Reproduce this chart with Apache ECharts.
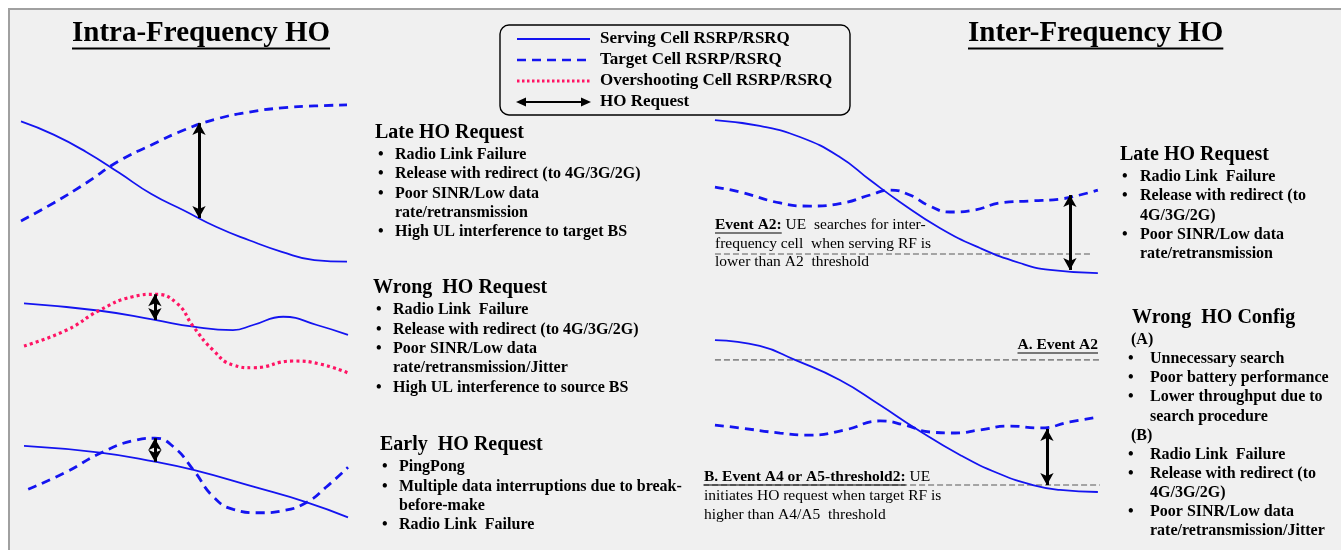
<!DOCTYPE html>
<html><head><meta charset="utf-8">
<script src="https://cdn.jsdelivr.net/npm/echarts@6/dist/echarts.min.js"></script>
<style>html,body{margin:0;padding:0;background:#fff}#c{width:1341px;height:550px}</style>
</head><body><div id="c"></div>
<script>
// ---------------- DATA ----------------
// Intra-frequency: late HO
const intraLateX       = [0,10,20,30,40,50,60,70,80,90,100];
const intraLateServing = [87,79,68.5,56,43,33,23,15,8,3,2];
const intraLateTarget  = [26.7,37.6,49.7,63,72.7,81.8,88.5,92.7,95.2,96.4,97];
const intraLateArrow   = [54.6, 86, 28.5];
// Intra-frequency: wrong HO
const intraWrongServX  = [0,23.5,40.4,52.3,64.5,70.7,80,90.4,100];
const intraWrongServY  = [80.7,72.9,63.2,56.1,52.6,57.9,66.6,57.9,47.4];
const intraWrongOverX  = [0,13.2,23.5,33.6,40.4,47.1,52.3,58.3,64.5,70.7,83,91.4,100];
const intraWrongOverY  = [35.8,52.6,73.7,87.7,90.2,81,56.1,31.6,15.8,12.9,20,16.8,7.4];
const intraWrongArrow  = [40.4, 90.2, 63.2];
// Intra-frequency: early HO
const intraEarlyServX  = [0,23.5,40.4,52.3,70.8,87.3,100];
const intraEarlyServY  = [83.2,76.1,66.6,57.9,40.3,23.9,8.1];
const intraEarlyTgtX   = [1.3,13.2,23.5,33.7,40.4,46.1,52.3,58.4,64.6,72.8,80,87.3,93.4,100];
const intraEarlyTgtY   = [37.6,56.1,75.5,88.7,91.3,82.4,57.9,29.8,16.5,12.9,15.1,23.9,40.3,60.7];
const intraEarlyArrow  = [40.4, 91.3, 66.6];
// Inter-frequency: late HO
const interLateServX   = [0,11.7,22.2,32.6,40.5,48.3,58.7,69.2,79.6,87.5,100];
const interLateServY   = [94.1,90.6,84.1,72.4,58.8,45.9,30.6,18.8,10,5.9,4.1];
const interLateTgtX    = [0,6.5,17,24.8,33.4,40.5,45.7,50.9,56.1,61.4,67.9,74.4,82.2,90.1,95.3,100];
const interLateTgtY    = [54.7,51.8,45.3,43.5,45.3,50,52.9,50,43.5,40,41.2,45.3,46.5,47.6,50,52.9];
const interLateA2      = [0, 98.7, 15.3];
const interLateArrow   = [92.7, 50, 5.9];
// Inter-frequency: wrong HO config
const interWrongServX  = [0,11.7,20.9,32.6,43.1,52.2,64,74.4,83,90.1,100];
const interWrongServY  = [94.1,90.6,82.4,70.6,55.9,42.4,26.5,15.3,8.8,5.9,4.7];
const interWrongTgtX   = [0,6.5,17,24.8,33.9,43.1,49.6,56.1,62.7,69.2,77,84.9,92.7,100];
const interWrongTgtY   = [44.1,42.4,39.4,38.2,41.2,46.5,44.1,40,39.4,41.2,43.5,42.4,45.9,48.8];
const interWrongA2     = [0, 100.5, 82.4];
const interWrongB      = [-3.1, 100.5, 8.8];
const interWrongArrow  = [86.7, 41.8, 8.8];

// Texts
const titleIntra = 'Intra-Frequency HO';
const titleInter = 'Inter-Frequency HO';
const legendLabels = ['Serving Cell RSRP/RSRQ','Target Cell RSRP/RSRQ','Overshooting Cell RSRP/RSRQ','HO Request'];
const intraLateHead = 'Late HO Request';
const intraLateItems = [['Radio Link Failure'],['Release with redirect (to 4G/3G/2G)'],['Poor SINR/Low data','rate/retransmission'],['High UL interference to target BS']];
const intraWrongHead = 'Wrong  HO Request';
const intraWrongItems = [['Radio Link  Failure'],['Release with redirect (to 4G/3G/2G)'],['Poor SINR/Low data','rate/retransmission/Jitter'],['High UL interference to source BS']];
const intraEarlyHead = 'Early  HO Request';
const intraEarlyItems = [['PingPong'],['Multiple data interruptions due to break-','before-make'],['Radio Link  Failure']];
const interLateHead = 'Late HO Request';
const interLateItems = [['Radio Link  Failure'],['Release with redirect (to','4G/3G/2G)'],['Poor SINR/Low data','rate/retransmission']];
const interWrongHead = 'Wrong  HO Config';
const interWrongItems = ['(A)',['Unnecessary search'],['Poor battery performance'],['Lower throughput due to','search procedure'],'(B)',['Radio Link  Failure'],['Release with redirect (to','4G/3G/2G)'],['Poor SINR/Low data','rate/retransmission/Jitter']];
const eventA2Bold = 'Event A2:';
const eventA2Lines = [' UE  searches for inter-','frequency cell  when serving RF is','lower than A2  threshold'];
const eventALabel = 'A. Event A2';
const eventBBold = 'B. Event A4 or A5-threshold2:';
const eventBLines = [' UE','initiates HO request when target RF is','higher than A4/A5  threshold'];

// ---------------- RENDER ----------------
const SERIF = '"Liberation Serif","Times New Roman",serif';
const BLUE = '#1414f0', RED = '#ff1464';
const cv = document.createElement('canvas').getContext('2d');
function tw(font, s){ cv.font = font; return cv.measureText(s).width; }
const zip = (xs, ys) => xs.map((x,i)=>[x, ys[i]]);

const grids = [
  {left:21, top:100, width:326, height:165},
  {left:24, top:285, width:324, height:95},
  {left:24, top:430, width:324, height:95},
  {left:702.7, top:110, width:399, height:170},
  {left:702.7, top:330, width:399, height:170}
];
const xMin = [0,0,0,-3.2,-3.2], xMax = [100,100,100,101,101];

function serving(gi, data, arrow){
  const s = {type:'line', xAxisIndex:gi, yAxisIndex:gi, data, smooth:0.5, showSymbol:false, silent:true,
    lineStyle:{color:BLUE, width:1.8}, z:3};
  if (arrow) s.markLine = {silent:true, symbol:['arrow','arrow'], symbolSize:[10,12], animation:false,
    lineStyle:{color:'#000', width:3, type:'solid'}, label:{show:false},
    data:[[{coord:[arrow[0],arrow[1]]},{coord:[arrow[0],arrow[2]]}]]};
  return s;
}
function target(gi, data){
  return {type:'line', xAxisIndex:gi, yAxisIndex:gi, data, smooth:0.5, showSymbol:false, silent:true,
    lineStyle:{color:BLUE, width:2.8, type:[9,6]}, z:3};
}
function overshoot(gi, data){
  return {type:'line', xAxisIndex:gi, yAxisIndex:gi, data, smooth:0.5, showSymbol:false, silent:true,
    lineStyle:{color:RED, width:3.2, type:[3,3.2]}, z:3};
}
function thresh(gi, t){
  return {type:'line', xAxisIndex:gi, yAxisIndex:gi, data:[[t[0],t[2]],[t[1],t[2]]], showSymbol:false, silent:true,
    lineStyle:{color:'#8a8a8a', width:1.6, type:[6,3]}, z:2};
}

const series = [
  serving(0, zip(intraLateX, intraLateServing), intraLateArrow),
  target(0, zip(intraLateX, intraLateTarget)),
  serving(1, zip(intraWrongServX, intraWrongServY), intraWrongArrow),
  overshoot(1, zip(intraWrongOverX, intraWrongOverY)),
  serving(2, zip(intraEarlyServX, intraEarlyServY), intraEarlyArrow),
  target(2, zip(intraEarlyTgtX, intraEarlyTgtY)),
  thresh(3, interLateA2),
  serving(3, zip(interLateServX, interLateServY), interLateArrow),
  target(3, zip(interLateTgtX, interLateTgtY)),
  thresh(4, interWrongA2),
  thresh(4, interWrongB),
  serving(4, zip(interWrongServX, interWrongServY), interWrongArrow),
  target(4, zip(interWrongTgtX, interWrongTgtY))
];

// graphics
const els = [];
els.push({type:'rect', z:-100, shape:{x:9, y:9, width:1345, height:560}, style:{fill:'#f0f0f0', stroke:'#a0a0a0', lineWidth:2}});
function txt(s, x, y, font, align){
  els.push({type:'text', z:50, style:{text:s, x, y, font, fill:'#000', align:align||'left', verticalAlign:'middle'}});
}
function uline(x1, x2, y, w){
  els.push({type:'line', z:50, shape:{x1, y1:y, x2, y2:y}, style:{stroke:'#000', lineWidth:w||1.3}});
}
// titles
const TF = `bold 29px ${SERIF}`;
txt(titleIntra, 72, 34, TF); uline(72, 72 + tw(TF, titleIntra), 48.5, 2.2);
txt(titleInter, 968, 34, TF); uline(968, 968 + tw(TF, titleInter), 48.5, 2.2);

// legend box
els.push({type:'rect', z:40, shape:{x:500, y:25, width:350, height:90, r:9}, style:{fill:'none', stroke:'#000', lineWidth:1.4}});
const LF = `bold 17px ${SERIF}`;
const ly = [39, 60, 81, 102];
els.push({type:'line', z:50, shape:{x1:517,y1:ly[0],x2:590,y2:ly[0]}, style:{stroke:BLUE, lineWidth:1.8}});
els.push({type:'line', z:50, shape:{x1:517,y1:ly[1],x2:590,y2:ly[1]}, style:{stroke:BLUE, lineWidth:2.5, lineDash:[9,6]}});
els.push({type:'line', z:50, shape:{x1:517,y1:ly[2],x2:590,y2:ly[2]}, style:{stroke:RED, lineWidth:2.8, lineDash:[2.5,2.5]}});
els.push({type:'line', z:50, shape:{x1:522,y1:ly[3],x2:585,y2:ly[3]}, style:{stroke:'#000', lineWidth:2}});
els.push({type:'polygon', z:50, shape:{points:[[516,ly[3]],[526,ly[3]-4.5],[526,ly[3]+4.5]]}, style:{fill:'#000'}});
els.push({type:'polygon', z:50, shape:{points:[[591,ly[3]],[581,ly[3]-4.5],[581,ly[3]+4.5]]}, style:{fill:'#000'}});
legendLabels.forEach((s,i)=>txt(s, 600, ly[i], LF));

// text blocks
const HF = `bold 20px ${SERIF}`, BF = `bold 16px ${SERIF}`;
function block(hx, hy, bx, tx, y0, dy, head, items, labelX){
  txt(head, hx, hy, HF);
  let y = y0;
  items.forEach(it=>{
    if (typeof it === 'string'){ txt(it, labelX, y, BF); y += dy; return; }
    txt('\u2022', bx, y, BF);
    it.forEach(line=>{ txt(line, tx, y, BF); y += dy; });
  });
}
block(375, 133, 378, 395, 155, 19.2, intraLateHead, intraLateItems);
block(373, 288, 376, 393, 310, 19.4, intraWrongHead, intraWrongItems);
block(380, 445, 382, 399, 467, 19.4, intraEarlyHead, intraEarlyItems);
block(1120, 155, 1122, 1140, 177, 19.3, interLateHead, interLateItems);
block(1132, 318, 1128, 1150, 340, 19.1, interWrongHead, interWrongItems, 1131);

// event annotations
const EF = `15.5px ${SERIF}`, EBF = `bold 15.5px ${SERIF}`;
function eventText(x, y0, dy, boldPart, lines){
  const wb = tw(EBF, boldPart);
  txt(boldPart, x, y0, EBF);
  uline(x, x + wb, y0 + 8, 1.2);
  txt(lines[0], x + wb, y0, EF);
  for (let i = 1; i < lines.length; i++) txt(lines[i], x, y0 + dy*i, EF);
}
eventText(715, 225, 18.5, eventA2Bold, eventA2Lines);
eventText(704, 477, 19, eventBBold, eventBLines);
txt(eventALabel, 1098, 345, EBF, 'right');
uline(1098 - tw(EBF, eventALabel), 1098, 353, 1.2);

const chart = echarts.init(document.getElementById('c'), null, {renderer:'canvas'});
chart.setOption({
  animation:false,
  backgroundColor:'#ffffff',
  grid: grids.map(g=>Object.assign({containLabel:false}, g)),
  xAxis: grids.map((g,i)=>({type:'value', gridIndex:i, min:xMin[i], max:xMax[i], show:false})),
  yAxis: grids.map((g,i)=>({type:'value', gridIndex:i, min:0, max:100, show:false})),
  series,
  graphic: els
});
</script></body></html>
